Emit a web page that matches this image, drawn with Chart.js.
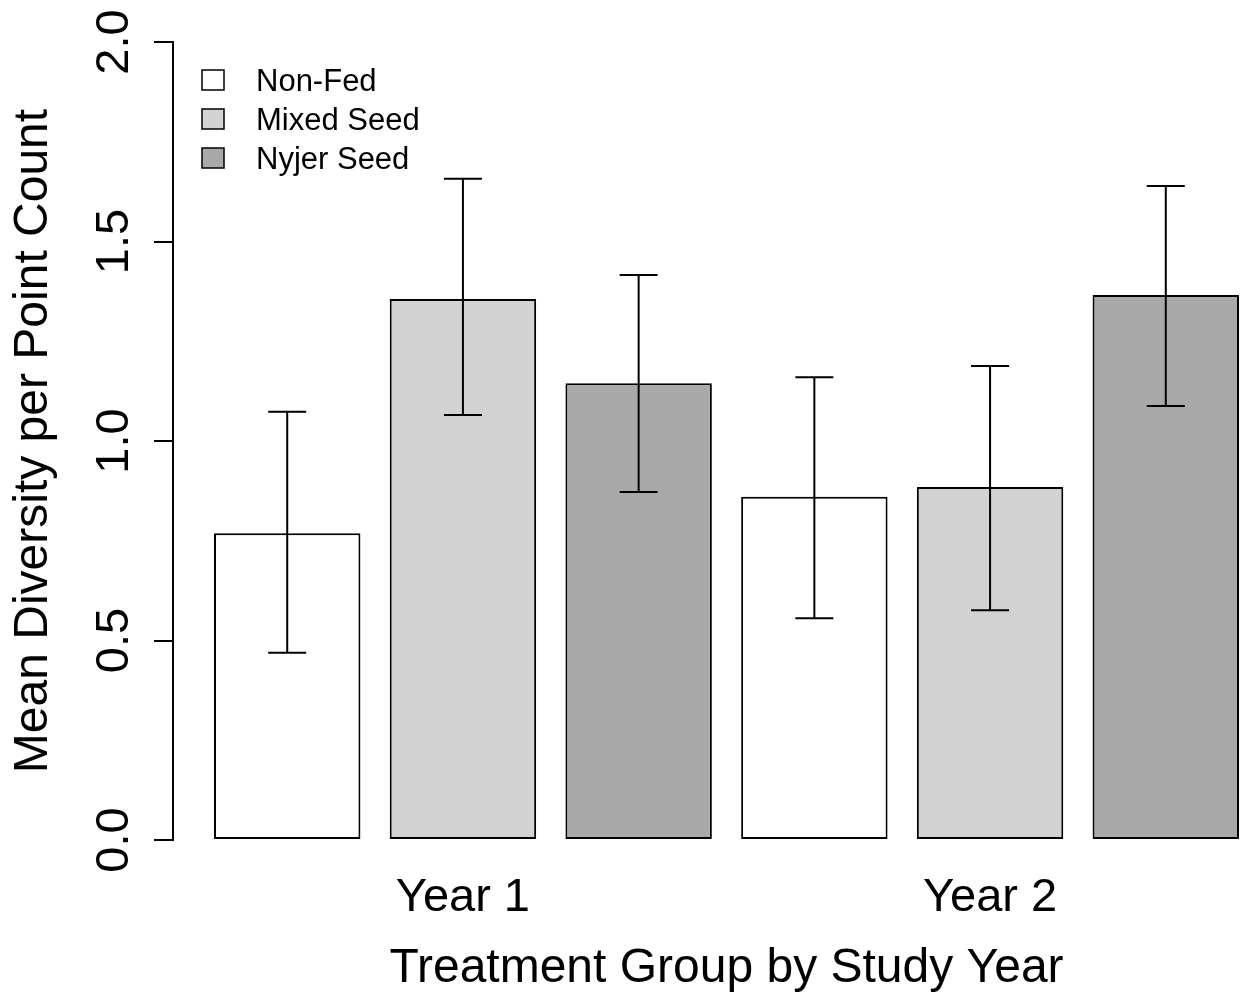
<!DOCTYPE html>
<html>
<head>
<meta charset="utf-8">
<script src="https://cdn.jsdelivr.net/npm/chart.js@4/dist/chart.umd.min.js"></script>
<style>
  html, body { margin: 0; padding: 0; background: #fff; overflow: hidden; }
  #wrap { width: 1280px; height: 995px; }
</style>
</head>
<body>
<div id="wrap"><canvas id="diversityChart" width="1280" height="995"></canvas></div>
<script>

const years = ["Year 1", "Year 2"];
const treatments = ["Non-Fed", "Mixed Seed", "Nyjer Seed"];
const fills = ["#ffffff", "#d3d3d3", "#a9a9a9"];

// mean diversity, one value per year
const nonFedMean = [0.769, 0.860];
const mixedMean = [1.356, 0.885];
const nyjerMean = [1.145, 1.366];

// error bar ends
const nonFedLow = [0.469, 0.556];
const nonFedHigh = [1.073, 1.160];
const mixedLow = [1.065, 0.576];
const mixedHigh = [1.657, 1.188];
const nyjerLow = [0.872, 1.088];
const nyjerHigh = [1.416, 1.639];

const yTicks = [0, 0.5, 1.0, 1.5, 2.0];

const means = [nonFedMean, mixedMean, nyjerMean];
const lows = [nonFedLow, mixedLow, nyjerLow];
const highs = [nonFedHigh, mixedHigh, nyjerHigh];

const FONT = "'Liberation Sans', Arial, sans-serif";

// barplot layout: width 1, space 0.2, bars ordered year by year
function barPos(yearIdx, treatIdx) {
    const n = yearIdx * treatments.length + treatIdx;
    return 0.7 + 1.2 * n;
}

const datasets = treatments.map((name, t) => ({
    label: name,
    data: years.map((y, yi) => ({ x: barPos(yi, t), y: means[t][yi] })),
    low: lows[t],
    high: highs[t],
    backgroundColor: fills[t],
    borderColor: "#000",
    borderWidth: 2,
    borderSkipped: false,
    grouped: false,
    barPercentage: 1 / 1.2,
    categoryPercentage: 1
}));

const yearCenters = years.map((y, yi) => {
    let s = 0;
    treatments.forEach((t, ti) => { s += barPos(yi, ti); });
    return s / treatments.length;
});


// =================== error bars ===================

const errorBars = {
    id: "errorBars",
    afterDatasetsDraw(chart) {
        const { ctx, scales: { y } } = chart;
        ctx.save();
        ctx.strokeStyle = "#000";
        ctx.lineWidth = 2;
        chart.data.datasets.forEach((ds, di) => {
            const meta = chart.getDatasetMeta(di);
            meta.data.forEach((bar, i) => {
                const yl = y.getPixelForValue(ds.low[i]);
                const yh = y.getPixelForValue(ds.high[i]);
                const cap = 19;
                ctx.beginPath();
                ctx.moveTo(bar.x, yl);
                ctx.lineTo(bar.x, yh);
                ctx.moveTo(bar.x - cap, yl);
                ctx.lineTo(bar.x + cap, yl);
                ctx.moveTo(bar.x - cap, yh);
                ctx.lineTo(bar.x + cap, yh);
                ctx.stroke();
            });
        });
        ctx.restore();
    }
};


// =================== rotated y tick labels ===================

const yLabels = {
    id: "yLabels",
    afterDraw(chart) {
        const { ctx, scales: { y } } = chart;
        ctx.save();
        ctx.fillStyle = "#000";
        ctx.font = "47px " + FONT;
        ctx.textAlign = "center";
        ctx.textBaseline = "alphabetic";
        yTicks.forEach(v => {
            ctx.save();
            ctx.translate(128, y.getPixelForValue(v));
            ctx.rotate(-Math.PI / 2);
            ctx.fillText(v.toFixed(1), 0, 0);
            ctx.restore();
        });
        ctx.restore();
    }
};


// =================== legend ===================

const boxLegend = {
    id: "boxLegend",
    afterDraw(chart) {
        const { ctx } = chart;
        ctx.save();
        ctx.font = "31px " + FONT;
        ctx.textBaseline = "middle";
        ctx.textAlign = "left";
        chart.data.datasets.forEach((ds, i) => {
            const cy = 80 + i * 39;
            ctx.fillStyle = ds.backgroundColor;
            ctx.fillRect(202, cy - 10, 22, 20);
            ctx.strokeStyle = "#000";
            ctx.lineWidth = 1.5;
            ctx.strokeRect(202, cy - 10, 22, 20);
            ctx.fillStyle = "#000";
            ctx.fillText(ds.label, 256, cy + 2);
        });
        ctx.restore();
    }
};


new Chart(document.getElementById("diversityChart"), {

    type: "bar",

    data: { datasets },

    options: {
        responsive: false,
        animation: false,
        layout: { padding: { top: 42, left: 0, right: 0, bottom: 0 } },
        plugins: {
            legend: { display: false },
            tooltip: { enabled: false }
        },
        scales: {
            x: {
                type: "linear",
                min: -0.08,
                max: 7.48,
                offset: false,
                grid: { display: false },
                border: { display: false },
                afterBuildTicks(scale) {
                    scale.ticks = yearCenters.map(v => ({ value: v }));
                },
                afterFit(scale) { scale.height = 155; },
                ticks: {
                    autoSkip: false,
                    maxRotation: 0,
                    padding: 22,
                    color: "#000",
                    font: { family: FONT, size: 47 },
                    callback: (v, i) => years[i]
                },
                title: {
                    display: true,
                    text: "Treatment Group by Study Year",
                    color: "#000",
                    font: { family: FONT, size: 48, lineHeight: 1 },
                    padding: { top: 0, bottom: 2 }
                }
            },
            y: {
                min: 0,
                max: 2,
                afterBuildTicks(scale) {
                    scale.ticks = yTicks.map(v => ({ value: v }));
                },
                afterFit(scale) { scale.width = 173; },
                grid: {
                    drawOnChartArea: false,
                    drawTicks: true,
                    tickLength: 19,
                    color: "#000",
                    lineWidth: 2
                },
                border: { display: true, color: "#000", width: 2 },
                ticks: { display: false },
                title: {
                    display: true,
                    text: "Mean Diversity per Point Count",
                    color: "#000",
                    font: { family: FONT, size: 48, lineHeight: 1 },
                    padding: { top: 10, bottom: 0 }
                }
            }
        }
    },

    plugins: [errorBars, yLabels, boxLegend]

});

</script>
</body>
</html>
